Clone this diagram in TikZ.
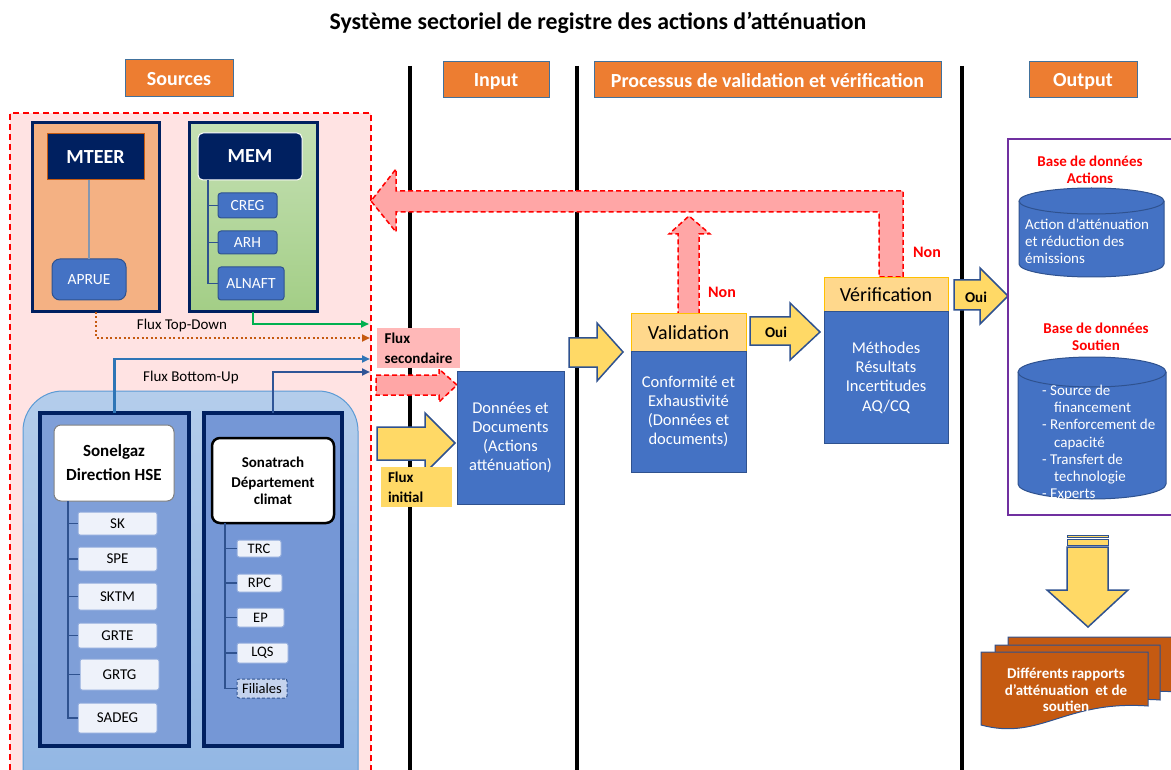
\documentclass[tikz,border=0pt]{standalone}
\usepackage{fontspec}
\setmainfont{Carlito}
\usetikzlibrary{arrows.meta,shapes.geometric}
\definecolor{orH}{HTML}{ED7D31}
\definecolor{hdrB}{HTML}{41719C}
\definecolor{pinkBg}{HTML}{FFE3E3}
\definecolor{mteerF}{HTML}{F4B183}
\definecolor{navy}{HTML}{002060}
\definecolor{memTop}{HTML}{C5E0B4}
\definecolor{memBot}{HTML}{A3CE86}
\definecolor{bluF}{HTML}{4472C4}
\definecolor{bluB}{HTML}{2F528F}
\definecolor{regTop}{HTML}{B4CDEB}
\definecolor{regBot}{HTML}{8EB4E3}
\definecolor{regB}{HTML}{5B9BD5}
\definecolor{orgF}{HTML}{7F9FD8}
\definecolor{orgFb}{HTML}{7597D6}
\definecolor{itemF}{HTML}{EEF2FA}
\definecolor{itemB}{HTML}{8FAADC}
\definecolor{filF}{HTML}{C5D3EE}
\definecolor{pinkA}{HTML}{FFA6A6}
\definecolor{pinkL}{HTML}{FFB8B8}
\definecolor{yelA}{HTML}{FFD966}
\definecolor{yelH}{HTML}{FFD88C}
\definecolor{yelHB}{HTML}{FFC000}
\definecolor{purp}{HTML}{7030A0}
\definecolor{rust}{HTML}{C55A11}
\definecolor{treeC}{HTML}{2F528F}
\definecolor{grn}{HTML}{00B050}
\definecolor{buA}{HTML}{2E75B6}
\definecolor{buB}{HTML}{2F5597}
\definecolor{greyL}{HTML}{8497B0}
\newcommand\mkbox[7]{\node[#1, minimum width={(#5)-(#3)}, minimum height={(#6)-(#4)}] (#2) at ({((#3)+(#5))/2},{((#4)+(#6))/2}) {#7};}
\newcommand\docpage[6]{\filldraw[docst] (#2,#3) -- (#4,#3) -- (#4,#5) .. controls ({(#2+#4)/2},{#5-6}) and ({(#2+#4)/2-24},{#6+16}) .. (#2,#6) -- cycle;}
\begin{document}
\begin{tikzpicture}[x=1pt,y=-1pt,
  box/.style={inner sep=0pt, outer sep=0pt, align=center},
  hdr/.style={box, fill=orH, draw=hdrB, line width=1pt, text=white, text depth=0pt, font=\fontsize{20}{24}\selectfont\bfseries},
  orgout/.style={box, draw=navy, line width=3pt},
  witem/.style={box, rounded corners=2pt, fill=itemF, draw=itemB, line width=1pt, font=\fontsize{15}{18}\selectfont},
  titem/.style={witem, font=\fontsize{14.5}{17}\selectfont},
  bitem/.style={box, rounded corners=3pt, fill=bluF, draw=bluB, line width=1pt, text=white, font=\fontsize{15.5}{18}\selectfont},
  bluebox/.style={box, fill=bluF, draw=bluB, line width=1pt, text=white, font=\fontsize{16.5}{19.3}\selectfont},
  vhead/.style={box, fill=yelH, draw=yelHB, line width=1pt, font=\fontsize{20}{24}\selectfont},
  yarrow/.style={fill=yelA, draw=bluB, line width=1.5pt, line join=miter},
  parrow/.style={fill=pinkA, draw=red, line width=1.5pt, dash pattern=on 5pt off 3pt},
  tree/.style={draw=treeC, line width=1.2pt},
  flowtip/.style={-{Triangle[length=8pt,width=7pt]}},
  lbl/.style={font=\fontsize{15}{18}\selectfont},
  blbl/.style={font=\fontsize{15}{18}\selectfont\bfseries},
  nonlbl/.style={text=red, font=\fontsize{16}{19}\selectfont\bfseries},
  dbtitle/.style={text=red, align=center, font=\fontsize{15}{16.5}\selectfont\bfseries},
  docst/.style={fill=rust, draw=bluB, line width=1pt}
]
\useasboundingbox (0,0) rectangle (1171,770);
\clip (0,0) rectangle (1171,770);

% title and column headers
\node[font=\fontsize{23.8}{28}\selectfont\bfseries] (title) at (598,23) {Système sectoriel de registre des actions d’atténuation};
\draw[line width=4pt] (410,66) -- (410,775);
\draw[line width=4pt] (577,66) -- (577,775);
\draw[line width=4pt] (962,66) -- (962,775);
\mkbox{hdr}{hsrc}{125}{60}{233}{97}{Sources}
\mkbox{hdr}{hin}{443}{62}{549}{98}{Input}
\mkbox{hdr}{hpro}{594}{62}{941}{98}{Processus de validation et vérification}
\mkbox{hdr}{hout}{1029}{62}{1137}{98}{Output}

% sources area
\mkbox{box, fill=pinkBg, draw=red, line width=2pt, dash pattern=on 6pt off 4pt}{srcbg}{10}{113}{371}{790}{}

% MTEER
\mkbox{orgout, fill=mteerF}{mteerout}{32}{123}{159}{312}{}
\mkbox{box, fill=navy, draw=rust, line width=1pt, text=white, font=\fontsize{20}{24}\selectfont\bfseries}{mteer}{47}{134}{144}{180}{MTEER}
\mkbox{box, rounded corners=8pt, fill=bluF, draw=bluB, line width=1pt, text=white, font=\fontsize{15.5}{18}\selectfont}{aprue}{52}{259}{126}{300}{APRUE}
\draw[greyL, line width=1.5pt] (aprue.north |- mteer.south) -- (aprue.north);

% MEM
\mkbox{orgout, top color=memTop, bottom color=memBot}{memout}{189}{123}{317}{312}{}
\mkbox{box, rounded corners=5pt, fill=navy, draw=white, line width=1pt, text=white, font=\fontsize{20}{24}\selectfont\bfseries}{mem}{198}{133}{302}{180}{MEM}
\mkbox{bitem}{creg}{218}{193}{277}{218}{CREG}
\mkbox{bitem}{arh}{218}{231}{277}{254}{ARH}
\mkbox{bitem}{alnaft}{218}{267}{284}{300}{ALNAFT}
\coordinate (memtree) at (208,180);
\draw[tree] (memtree) |- (alnaft.west);
\draw[tree] (memtree |- creg.west) -- (creg.west);
\draw[tree] (memtree |- arh.west) -- (arh.west);

% top-down flows
\node[lbl] (ftd) at (182,326) {Flux Top-Down};
\coordinate (tdEnd) at (370,338);
\coordinate (gEnd) at (369,324);
\draw[rust, line width=2pt, dash pattern=on 2pt off 2.5pt, flowtip] (mteerout.south) |- (tdEnd);
\draw[grn, line width=1.8pt, flowtip] (memout.south) |- (gEnd);

% bottom-up region
\mkbox{box, rounded corners=40pt, top color=regTop, bottom color=regBot, draw=regB, line width=1pt}{region}{23}{391}{358}{830}{}

% Sonelgaz
\mkbox{orgout, fill=orgF, line width=4pt}{sgout}{40}{413}{189}{746}{}
\mkbox{box, rounded corners=7pt, fill=white, draw=gray, line width=1pt, font=\fontsize{17}{24}\selectfont\bfseries}{sg}{54}{425}{174}{501}{Sonelgaz\\Direction HSE}
\mkbox{witem}{sk}{78}{512}{157}{535}{SK}
\mkbox{witem}{spe}{78}{547}{157}{571}{SPE}
\mkbox{witem}{sktm}{78}{583}{157}{610}{SKTM}
\mkbox{witem}{grte}{78}{623}{157}{648}{GRTE}
\mkbox{witem}{grtg}{80}{659}{159}{690}{GRTG}
\mkbox{witem}{sadeg}{78}{703}{157}{733}{SADEG}
\coordinate (sgtree) at (68,501);
\draw[tree] (sgtree) |- (sadeg.west);
\foreach \n in {sk,spe,sktm,grte,grtg}{\draw[tree] (sgtree |- \n.west) -- (\n.west);}

% Sonatrach
\mkbox{orgout, fill=orgFb, line width=4pt}{stout}{204}{413}{342}{746}{}
\mkbox{box, rounded corners=8pt, fill=white, draw=black, line width=2.5pt, font=\fontsize{15}{16.5}\selectfont\bfseries}{st}{212}{438}{334}{523}{Sonatrach\\[4pt]Département\\climat}
\mkbox{titem}{trc}{237}{540}{281}{557}{TRC}
\mkbox{titem}{rpc}{237}{574}{282}{592}{RPC}
\mkbox{titem}{ep}{237}{608}{284}{627}{EP}
\mkbox{titem}{lqs}{237}{643}{288}{663}{LQS}
\mkbox{titem, fill=filF, draw=bluB, dash pattern=on 3pt off 2pt}{filiales}{237}{679}{287}{698}{Filiales}
\coordinate (sttree) at (225,523);
\draw[tree] (sttree) |- (filiales.west);
\foreach \n in {trc,rpc,ep,lqs}{\draw[tree] (sttree |- \n.west) -- (\n.west);}

% bottom-up flows
\node[lbl] (fbu) at (191,378) {Flux Bottom-Up};
\coordinate (buEndA) at (370,359);
\coordinate (buEndB) at (370,372);
\draw[buA, line width=2.5pt, flowtip] (sgout.north) |- (buEndA);
\draw[buB, line width=2.5pt, flowtip] (stout.north) |- (buEndB);

% feedback arrows (pink, dashed)
\draw[parrow] (903,277) -- (903,191) -- (396,191) -- (396,169) -- (371,201) -- (396,232) -- (396,212) -- (879,212) -- (879,277) -- cycle;
\draw[parrow] (699,314) -- (699,234) -- (710,234) -- (689,216) -- (669,234) -- (678,234) -- (678,314) -- cycle;
\draw[parrow] (376,375) -- (439,375) -- (439,369) -- (457,385) -- (439,402) -- (439,395) -- (376,395) -- cycle;
\mkbox{box, fill=pinkL, align=left, font=\fontsize{15}{20}\selectfont\bfseries}{fsec}{377}{328}{460}{368}{Flux\\secondaire}

% initial flow
\draw[yarrow] (377,427) -- (425,427) -- (425,413) -- (455,443) -- (425,473) -- (425,460) -- (377,460) -- cycle;
\mkbox{box, fill=yelA, align=left, text width=57pt, font=\fontsize{15}{20}\selectfont\bfseries}{fini}{381}{467}{452}{507}{Flux\\initial}

% input
\mkbox{bluebox}{donnees}{457}{371}{564}{504}{Données et\\Documents\\(Actions\\atténuation)}
\draw[yarrow] (569,338) -- (597,338) -- (597,323) -- (623,352) -- (597,381) -- (597,367) -- (569,367) -- cycle;

% validation
\mkbox{vhead}{valh}{631}{314}{746}{351}{Validation}
\mkbox{bluebox}{valb}{631}{351}{746}{472}{Conformité et\\Exhaustivité\\(Données et\\documents)}
\draw[yarrow] (750,317) -- (790,317) -- (790,303) -- (820,332) -- (790,360) -- (790,345) -- (750,345) -- cycle;
\node[blbl] (oui1) at (776,332) {Oui};
\node[nonlbl] (non1) at (722,292) {Non};

% verification
\mkbox{vhead}{verh}{824}{278}{948}{312}{Vérification}
\mkbox{bluebox}{verb}{824}{312}{948}{443}{Méthodes\\Résultats\\Incertitudes\\AQ/CQ}
\node[nonlbl] (non2) at (927,252) {Non};
\draw[yarrow] (954,280) -- (980,280) -- (980,268) -- (1008,296) -- (980,324) -- (980,310) -- (954,310) -- cycle;
\node[blbl] (oui2) at (976,297) {Oui};

% output
\mkbox{box, draw=purp, line width=2pt}{outbox}{1008}{139}{1185}{515}{}
\node[dbtitle] (bda) at (1090,170) {Base de données\\Actions};
\path[fill=bluF, draw=bluB, line width=1pt] (1019,201) -- (1019,264) arc[start angle=180, end angle=360, x radius=72.5pt, y radius=13pt] -- (1164,201) arc[start angle=0, end angle=180, x radius=72.5pt, y radius=13pt] -- cycle;
\draw[bluB, line width=1pt] (1019,201) arc[start angle=180, end angle=360, x radius=72.5pt, y radius=13pt];
\node[anchor=west, align=left, text=white, inner sep=0pt, font=\fontsize{15}{17}\selectfont] (cylA) at (1025,241) {Action d’atténuation\\et réduction des\\émissions};

\node[dbtitle] (bds) at (1096,337) {Base de données\\Soutien};
\path[fill=bluF, draw=bluB, line width=1pt] (1018,372) -- (1018,484) arc[start angle=180, end angle=360, x radius=74pt, y radius=15pt] -- (1166,372) arc[start angle=0, end angle=180, x radius=74pt, y radius=15pt] -- cycle;
\draw[bluB, line width=1pt] (1018,372) arc[start angle=180, end angle=360, x radius=74pt, y radius=15pt];
\node[anchor=west, align=left, text=white, inner sep=0pt, font=\fontsize{15}{17.2}\selectfont] (cylB) at (1042,443) {- Source de\\\hspace*{12pt}financement\\- Renforcement de\\\hspace*{12pt}capacité\\- Transfert de\\\hspace*{12pt}technologie\\- Experts};

% down arrow to reports
\filldraw[fill=yelA, draw=bluB, line width=1pt] (1067,535) rectangle (1108,537.5);
\filldraw[fill=yelA, draw=bluB, line width=1pt] (1067,539.5) rectangle (1108,545);
\draw[yarrow] (1067,547) -- (1108,547) -- (1108,590) -- (1128,590) -- (1088,627) -- (1047,590) -- (1067,590) -- cycle;

% reports (multi-document)
\docpage{back}{1008}{637}{1178}{692}{712}
\docpage{mid}{995}{645}{1160}{700}{719}
\docpage{front}{981}{652}{1148}{706}{725}
\node[text=white, align=center, font=\fontsize{15}{16.3}\selectfont\bfseries] (rap) at (1066,690) {Différents rapports\\d’atténuation~ et de\\soutien};
\end{tikzpicture}
\end{document}
